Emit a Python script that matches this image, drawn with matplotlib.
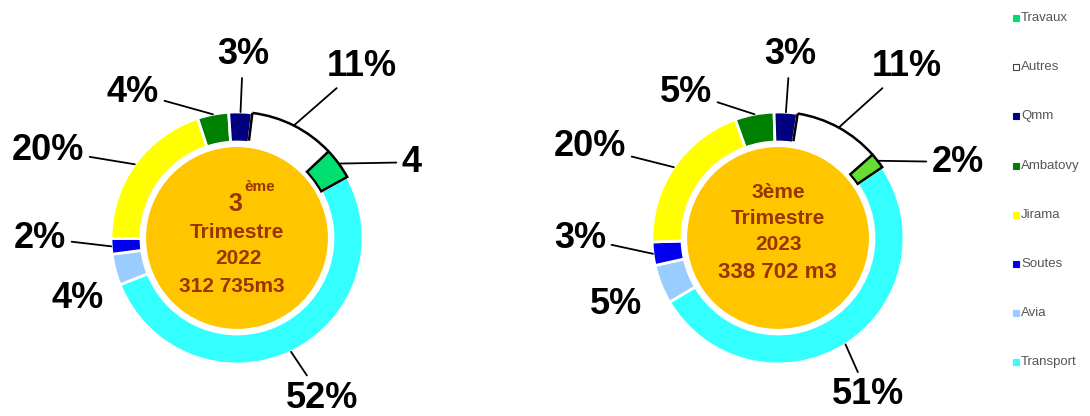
import matplotlib.pyplot as plt
from matplotlib.patches import Circle, Rectangle, Arc
import numpy as np

# Donnees (ordre horaire a partir du haut)
categories = ["Autres", "Travaux", "Transport", "Avia", "Soutes", "Jirama", "Ambatovy", "Qmm"]
valeurs_2022 = [11, 4, 52, 4, 2, 20, 4, 3]
valeurs_2023 = [11, 2, 51, 5, 3, 20, 5, 3]
etiquettes_2022 = ["11%", "4%", "52%", "4%", "2%", "20%", "4%", "3%"]
etiquettes_2023 = ["11%", "2%", "51%", "5%", "3%", "20%", "5%", "3%"]
legende_ordre = ["Travaux", "Autres", "Qmm", "Ambatovy", "Jirama", "Soutes", "Avia", "Transport"]

couleurs = {"Autres": "#ffffff", "Travaux": "#00e070", "Transport": "#33ffff",
            "Avia": "#99ccff", "Soutes": "#0000ee", "Jirama": "#ffff00",
            "Ambatovy": "#008000", "Qmm": "#000080"}
couleur_travaux_2023 = "#66dd33"

W, H = 1090, 416
fig = plt.figure(figsize=(W / 100, H / 100), dpi=100)
ax = fig.add_axes([0, 0, 1, 1])
ax.set_xlim(0, W)
ax.set_ylim(0, H)
ax.set_aspect("equal")
ax.axis("off")

police = "Liberation Sans"
R = 126
largeur = 30


def donut(cx, cy, valeurs, etiquettes, cols, debut, pos_txt, lignes, centre_txt):
    wedges, _ = ax.pie(valeurs, colors=cols, startangle=debut, counterclock=False,
                       radius=R, center=(cx, cy), frame=True,
                       wedgeprops=dict(width=largeur, edgecolor="white", linewidth=2))
    for w, cat in zip(wedges, categories):
        if cat == "Travaux":
            w.set_edgecolor("black")
            w.set_linewidth(1.8)
            w.set_zorder(2)
        if cat == "Autres":
            # contour noir: arc exterieur + bord gauche
            ax.add_patch(Arc((cx, cy), 2 * R, 2 * R, theta1=w.theta1, theta2=w.theta2,
                             color="black", lw=1.8, zorder=2))
            a = np.deg2rad(w.theta2)
            ax.plot([cx + (R - largeur + 2) * np.cos(a), cx + R * np.cos(a)],
                    [cy + (R - largeur + 2) * np.sin(a), cy + R * np.sin(a)],
                    color="black", lw=1.8, zorder=2, solid_capstyle="butt")
    ax.add_patch(Circle((cx, cy), 93, facecolor="#ffc600", edgecolor="white", lw=3, zorder=3))
    textes = []
    for w, lab, (tx, ty), ligne in zip(wedges, etiquettes, pos_txt, lignes):
        th = np.deg2rad((w.theta1 + w.theta2) / 2)
        px, py = cx + R * np.cos(th), cy + R * np.sin(th)
        ap = dict(arrowstyle="-", color="black", lw=1.3, shrinkA=2, shrinkB=0) if ligne else None
        t = ax.annotate(lab, xy=(px, py), xytext=(tx, H - ty), ha="center", va="center",
                        fontsize=26, fontweight="bold", family=police, arrowprops=ap)
        textes.append(t)
    for txt, (tx, ty, fs) in centre_txt:
        ax.text(tx, H - ty, txt, ha="center", va="center", fontsize=fs, fontweight="bold",
                color="#993300", family=police, zorder=4)
    return textes


cols22 = [couleurs[c] for c in categories]
cols23 = [couleur_travaux_2023 if c == "Travaux" else couleurs[c] for c in categories]

t22 = donut(237, H - 238, valeurs_2022, etiquettes_2022, cols22, 83,
            [(362, 66), (428, 162), (322, 398), (78, 298), (40, 238), (48, 150), (133, 92), (243, 55)],
            [True, True, True, False, True, True, True, True],
            [("3", (235, 204, 18)), ("ème", (260, 187, 11)), ("Trimestre", (237, 232, 15)),
             ("2022", (238, 259, 15)), ("312 735m3", (232, 286, 15))])
# etiquette coupee a droite
t22[1].set_clip_path(Rectangle((0, 0), 422, H, transform=ax.transData))

donut(778, H - 238, valeurs_2023, etiquettes_2023, cols23, 81,
      [(907, 66), (958, 162), (868, 395), (616, 305), (580, 238), (590, 146), (686, 92), (790, 55)],
      [True, True, True, False, True, True, True, True],
      [("3ème", (778, 193, 15)), ("Trimestre", (778, 218, 15)),
       ("2023", (778, 245, 15)), ("338 702 m3", (777, 272, 16))])

# legende
for i, cat in enumerate(legende_ordre):
    y = H - (18 + i * 49.2)
    ax.plot(1016, y, marker="s", markersize=5, color=couleurs[cat],
            markeredgecolor="#444444" if cat == "Autres" else couleurs[cat], markeredgewidth=0.8)
    ax.text(1021, y, cat, ha="left", va="center", fontsize=9.5, color="#555555",
            family=police)

fig.savefig("out.png", dpi=100)
